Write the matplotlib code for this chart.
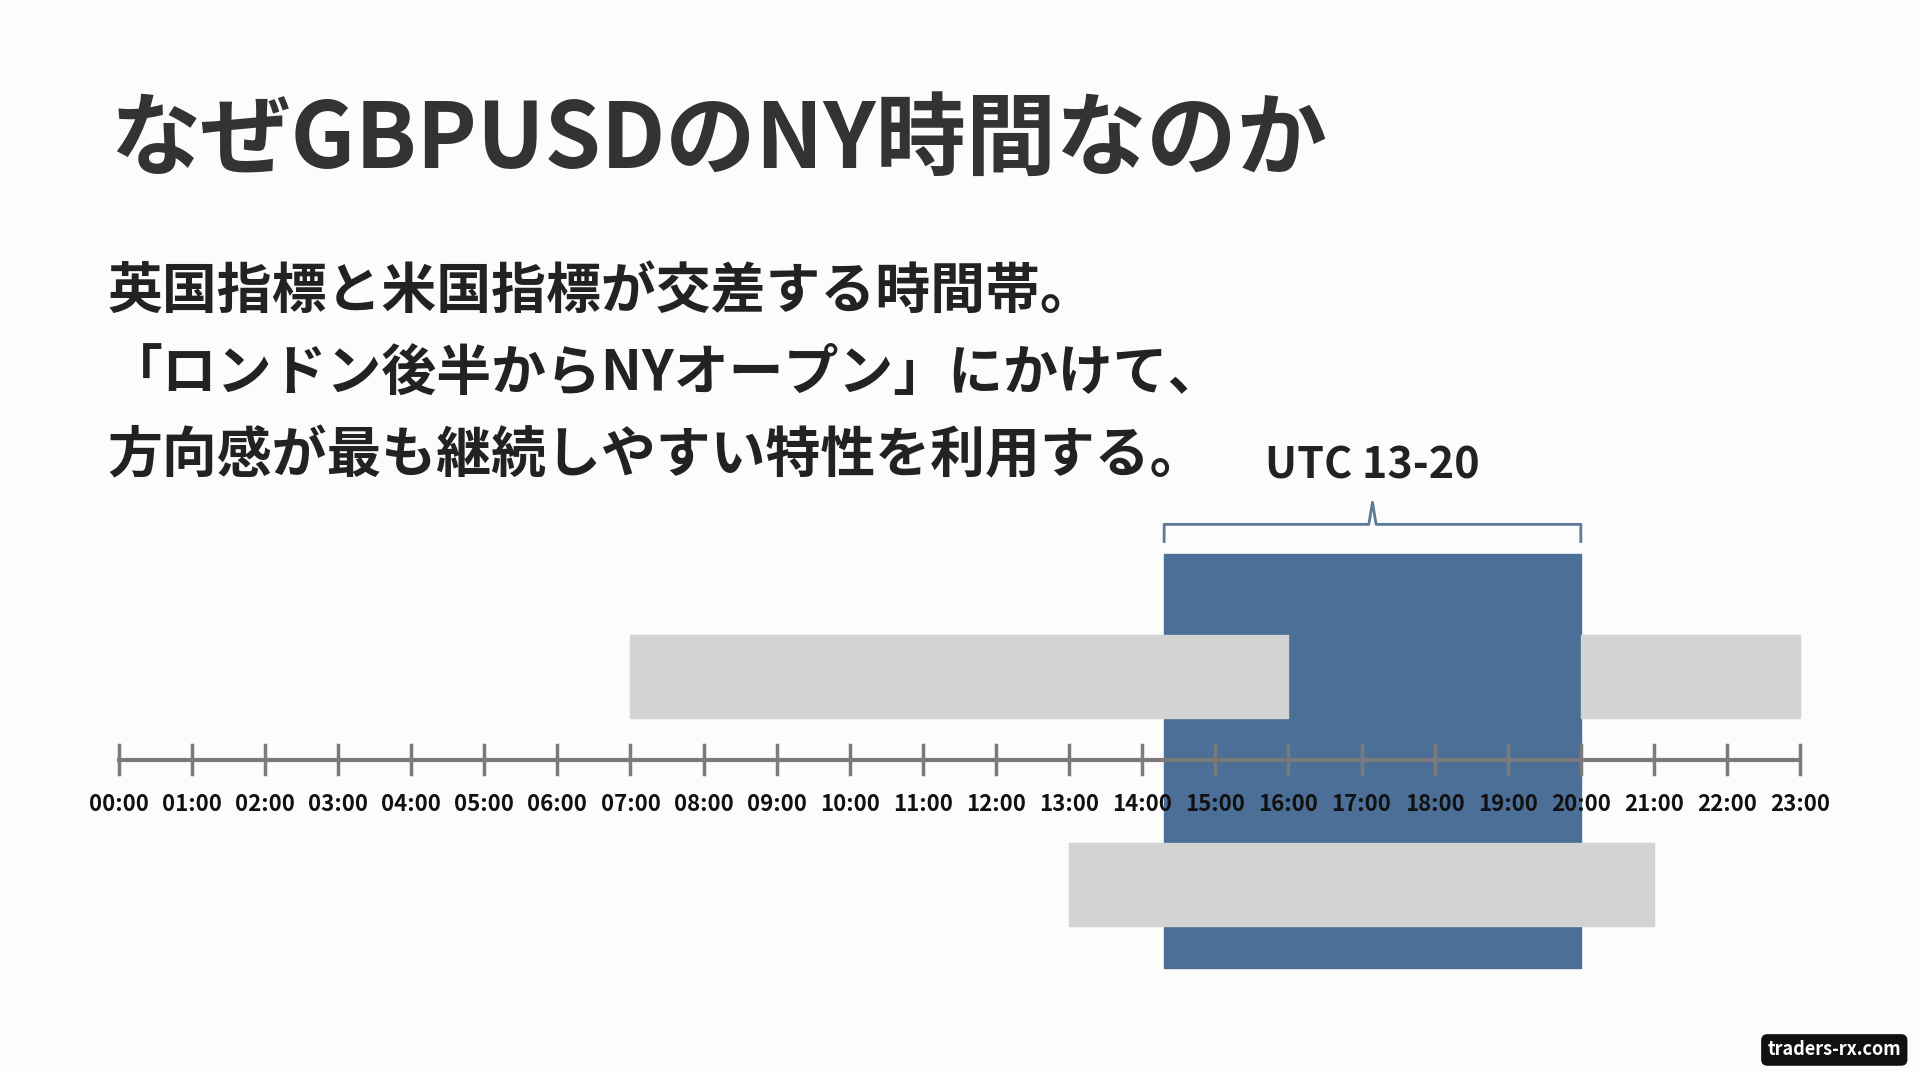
import matplotlib
matplotlib.use("Agg")
import matplotlib.pyplot as plt
from matplotlib.patches import Rectangle

plt.rcParams['font.family'] = ['Noto Sans CJK JP', 'DejaVu Sans']

hours = list(range(24))
tick_labels = [f"{h:02d}:00" for h in hours]
# sessions (start hour, end hour)
london = [(7, 16), (20, 23)]
newyork = [(13, 21)]
focus = (14.3, 20)
focus_label = "UTC 13-20"
title = "なぜGBPUSDのNY時間なのか"
body = ["英国指標と米国指標が交差する時間帯。",
        "「ロンドン後半からNYオープン」にかけて、",
        "方向感が最も継続しやすい特性を利用する。"]

fig = plt.figure(figsize=(19.2, 10.72), dpi=100)
fig.patch.set_facecolor('#fcfcfc')
ax = fig.add_axes([0, 0, 1, 1])
ax.set_facecolor('#fcfcfc')
pxh = 59.7
x0 = 97
ax.set_xlim(-x0 / pxh, (1568 - x0) / pxh)
ax.set_ylim(875, 0)
ax.axis('off')

ax.add_patch(Rectangle((focus[0], 452), focus[1] - focus[0], 338, color='#4b6f96', zorder=2))
for s, e in london:
    ax.add_patch(Rectangle((s, 518), e - s, 68, color='#d3d3d3', zorder=3))
for s, e in newyork:
    ax.add_patch(Rectangle((s, 688), e - s, 68, color='#d3d3d3', zorder=3))

ax.plot([0, 23], [620, 620], color='#7a7a7a', lw=3, zorder=4)
for h, lab in zip(hours, tick_labels):
    ax.plot([h, h], [608, 632], color='#7a7a7a', lw=2.5, zorder=4)
    ax.text(h, 657, lab, ha='center', va='center', fontsize=16, fontweight='bold',
            color='#111', zorder=5)

m = (focus[0] + focus[1]) / 2
bx = [focus[0], focus[0], m - 0.05, m, m + 0.05, focus[1], focus[1]]
by = [442, 428, 428, 410, 428, 428, 442]
ax.plot(bx, by, color='#5d7a99', lw=2, zorder=4)
ax.text(m, 380, focus_label, ha='center', va='center', fontsize=31, fontweight='bold', color='#222')

ax.text(90 / pxh - x0 / pxh, 115, title, ha='left', va='center', fontsize=65,
        fontweight='bold', color='#333')
for i, line in enumerate(body):
    ax.text(88 / pxh - x0 / pxh, 238 + 67 * i, line, ha='left', va='center', fontsize=39.5,
            fontweight='bold', color='#222')

ax.text((1498 - x0) / pxh, 857, "traders-rx.com", ha='center', va='center', fontsize=13,
        fontweight='bold', color='white',
        bbox=dict(boxstyle='round,pad=0.35', fc='#111', ec='none'))

fig.savefig("out.png", dpi=100, facecolor=fig.get_facecolor())
